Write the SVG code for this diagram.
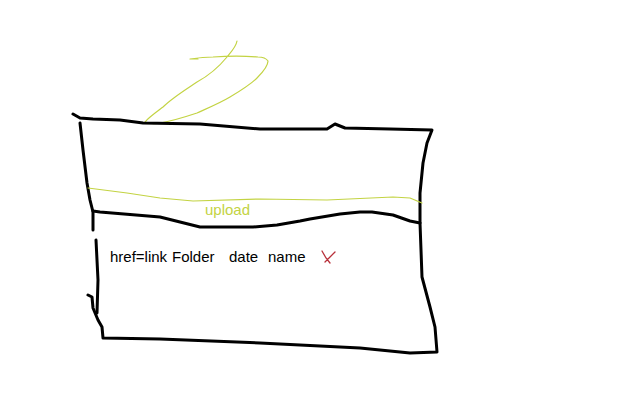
<svg xmlns="http://www.w3.org/2000/svg" width="626" height="410" viewBox="0 0 626 410">
<style>
.ink{fill:none;stroke:#000;stroke-width:3;stroke-linecap:round;stroke-linejoin:round}
.hl{fill:none;stroke:#c3d343;stroke-width:1.2;stroke-linecap:round;stroke-linejoin:round}
.t{font-family:"Liberation Sans",Arial,sans-serif;font-size:15px;fill:#000}
.up{font-family:"Liberation Sans",Arial,sans-serif;font-size:15px;fill:#c3d343}
</style>
<rect width="626" height="410" fill="#fff"/>
<g id="scribble">
<path class="hl" d="M237,41 C236,47 231,52 227,57 C218,68 208,76 197,82 C185,90 172,98 163,107 C155,113 148,118 145,122 C150,124 155,124 160,123 C172,121 185,117 197,113 C208,108 220,103 230,97 C240,91 250,85 257,78 C263,72 268,66 268,61 C266,58 262,57 258,57 C245,56 228,56 213,57 C205,57 197,58 190,59 M190,59 L198,59"/>
</g>
<g id="box">
<path class="ink" d="M73,114 L80,118 L93,119 L120,120 L143,123 L200,124 L260,129 L300,129 L327,129 L335,124 L345,128 L390,129 L432,130 L427,143 L423,163 L420,193 L420,223 L421,250 L422,277 L430,307 L435,327 L437,352 L410,353 L360,348 L260,343 L160,339 L103,338 L102,327 L98,320 L93,308 L92,297 L88,295"/>
<path class="ink" d="M80,123 L83,150 L87,183 L90,200 L93,212 L93,230"/>
<path class="ink" d="M96,240 L98,280 L97,313"/>
</g>
<g id="upload-bar">
<path class="hl" d="M88,188 L127,193 L160,198 L193,201 L260,199 L327,200 L393,197 L410,198 L422,203"/>
<path class="ink" d="M93,211 L100,212 L160,217 L200,227 L253,227 L277,225 L300,221 L310,219 L340,214 L360,212 L372,212 L393,215 L410,221 L420,223"/>
<text class="up" x="205" y="215">upload</text>
</g>
<g id="row">
<text class="t" x="110" y="262">href=link</text>
<text class="t" x="172" y="262">Folder</text>
<text class="t" x="229" y="262">date</text>
<text class="t" x="268" y="262">name</text>
<path fill="none" stroke="#b8303a" stroke-width="1.3" stroke-linecap="round" d="M322,251 L326,258 L330,263 M335,252 L330,257 L325,262"/>
</g>
</svg>
